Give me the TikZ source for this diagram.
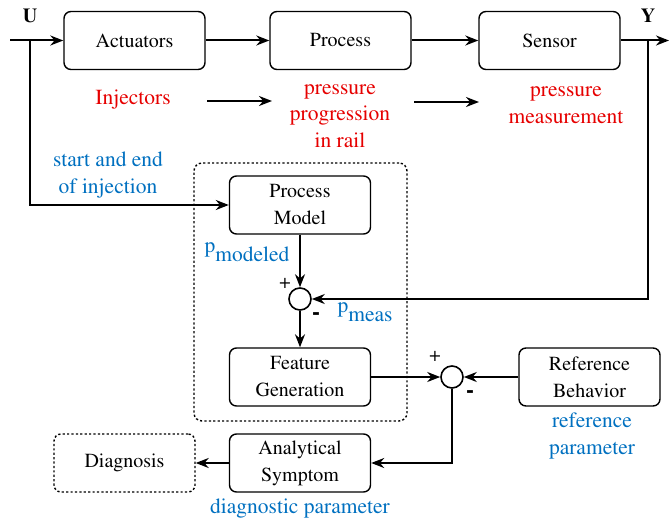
\documentclass[tikz,border=0pt]{standalone}
\usepackage[T1]{fontenc}
\usepackage{times}
\usetikzlibrary{arrows.meta}
\newcommand{\tms}{\rmfamily}
\definecolor{myred}{RGB}{230,0,0}
\definecolor{myblue}{RGB}{0,112,192}
\begin{document}
\begin{tikzpicture}[x=1pt,y=-1pt,
  blk/.style={draw,line width=1.4pt,rounded corners=7pt,minimum width=141pt,minimum height=58pt,align=center,font=\tms\fontsize{20}{27}\selectfont,inner sep=0pt},
  dotbox/.style={draw,line width=1.4pt,rounded corners=8pt,dash pattern=on 2.2pt off 2.2pt},
  sumc/.style={draw,circle,line width=1.6pt,minimum size=22pt,inner sep=0pt},
  conn/.style={line width=2pt,-{Stealth[length=13pt,width=10pt]}},
  redt/.style={text=myred,align=center,font=\tms\fontsize{21.5}{26.5}\selectfont},
  bluet/.style={text=myblue,align=center,font=\tms\fontsize{21.5}{27}\selectfont},
  sgn/.style={font=\tms\fontsize{20}{20}\selectfont},
  msgn/.style={font=\tms\fontsize{24}{24}\selectfont\bfseries},
  lbl/.style={font=\tms\fontsize{20}{20}\selectfont\bfseries}]
\useasboundingbox (0,0) rectangle (671,521);
% dashed group box
\node[dotbox,minimum width=213pt,minimum height=258pt] (grp) at (300.5,292) {};
% blocks
\node[blk] (act) at (134.5,40.5) {Actuators};
\node[blk] (proc) at (340.5,40.5) {Process};
\node[blk] (sens) at (549.5,40.5) {Sensor};
\node[blk] (pm) at (300,205) {Process\\Model};
\node[blk] (fg) at (300,377) {Feature\\Generation};
\node[blk] (rb) at (589.5,377) {Reference\\Behavior};
\node[blk] (as) at (300,463) {Analytical\\Symptom};
\node[blk,dash pattern=on 2.2pt off 2.2pt] (diag) at (124.5,463) {Diagnosis};
\node[sumc] (s1) at (300,299) {};
\node[sumc] (s2) at (452,377) {};
% labels
\node[lbl] (U) at (30,16) {U};
\node[lbl] (Y) at (648,16) {Y};
\node[redt] (inj) at (133,100) {Injectors};
\node[redt] (ppr) at (340,116) {pressure\\progression\\in rail};
\node[redt] (pme) at (566,105) {pressure\\measurement};
\node[bluet] (sei) at (108,175) {start and end\\of injection};
\node[bluet,anchor=west] (pmod) at (201,252) {p\raisebox{-9pt}{modeled}};
\node[bluet,anchor=west] (pmeas) at (334,312) {p\raisebox{-9pt}{meas}};
\node[bluet] (refp) at (592,436) {reference\\parameter};
\node[bluet] (dp) at (300,509) {diagnostic parameter};
\node[sgn] (p1) at (285,283) {+};
\node[msgn] (m1) at (316,316) {-};
\node[sgn] (p2) at (435,356) {+};
\node[msgn] (m2) at (470,394) {-};
% coordinates
\coordinate (in) at (10,40.5);
\coordinate (ub) at (30,40.5);
\coordinate (out) at (669,40.5);
\coordinate (yb) at (648,40.5);
\coordinate (a1) at (207,101);
\coordinate (a2) at (272,101);
\coordinate (b1) at (414,102);
\coordinate (b2) at (479,102);
% connectors
\draw[conn] (in) -- (act.west);
\draw[conn] (act.east) -- (proc.west);
\draw[conn] (proc.east) -- (sens.west);
\draw[conn] (sens.east) -- (out);
\draw[conn] (ub) |- (pm.west);
\draw[conn] (yb) |- (s1.east);
\draw[conn] (a1) -- (a2);
\draw[conn] (b1) -- (b2);
\draw[conn] (pm.south) -- (s1.north);
\draw[conn] (s1.south) -- (fg.north);
\draw[conn] (fg.east) -- (s2.west);
\draw[conn] (rb.west) -- (s2.east);
\draw[conn] (s2.south) |- (as.east);
\draw[conn] (as.west) -- (diag.east);
\end{tikzpicture}
\end{document}
